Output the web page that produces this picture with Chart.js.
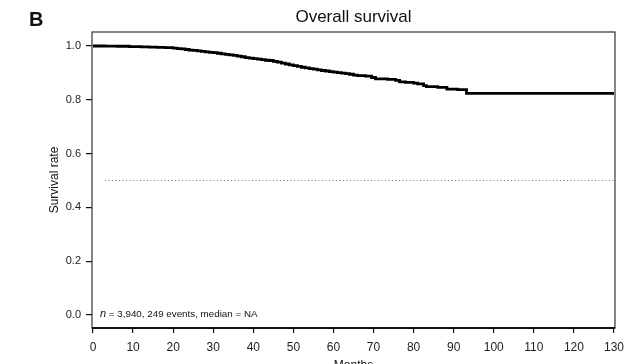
<!DOCTYPE html>
<html>
<head>
<meta charset="utf-8">
<script src="https://cdn.jsdelivr.net/npm/chart.js@4.4.1/dist/chart.umd.min.js"></script>
<style>
  html, body { margin: 0; padding: 0; background: #fff; }
  #wrap { width: 640px; height: 364px; }
</style>
</head>
<body>
<div id="wrap"><canvas id="os-chart" width="640" height="364"></canvas></div>
<script>
// Kaplan-Meier curve (months, survival)
const months = [0, 3, 6, 9, 12, 14, 16, 18, 20, 21, 22, 23, 24, 25, 26, 27, 28, 29, 30, 31, 32, 33, 34, 35, 36, 37, 38, 39, 40,
    41, 42, 43, 44, 45, 46, 47, 48, 49, 50, 51, 52, 53, 54, 55, 56, 57, 58, 59, 60, 61, 62, 63, 64, 65, 66, 68, 69.5, 70.5,
    73.5, 75.5, 76.5, 78, 80, 81, 82.5, 83.2, 86, 88.3, 91, 93.2, 130];
const survival = [1.000, 0.9995, 0.999, 0.998, 0.997, 0.996, 0.995, 0.994, 0.992, 0.990, 0.989, 0.987, 0.985, 0.984, 0.982,
    0.980, 0.978, 0.976, 0.975, 0.973, 0.971, 0.969, 0.967, 0.965, 0.962, 0.960, 0.957, 0.955, 0.953, 0.951, 0.949, 0.947,
    0.946, 0.943, 0.940, 0.936, 0.933, 0.930, 0.927, 0.924, 0.921, 0.919, 0.916, 0.914, 0.911, 0.909, 0.907, 0.905, 0.903,
    0.901, 0.899, 0.897, 0.895, 0.892, 0.890, 0.888, 0.883, 0.878, 0.876, 0.872, 0.867, 0.865, 0.862, 0.859, 0.853, 0.849,
    0.846, 0.840, 0.838, 0.824, 0.824];
const medianX = [3, 130];
const medianY = [0.5, 0.5];
const xTicks = [0, 10, 20, 30, 40, 50, 60, 70, 80, 90, 100, 110, 120, 130];
const yTicks = [0.0, 0.2, 0.4, 0.6, 0.8, 1.0];

const FONT = "'Liberation Sans', Arial, sans-serif";

const decor = {
    id: 'decor',
    afterDraw(chart) {
        const ctx = chart.ctx;
        const a = chart.chartArea;
        ctx.save();
        // box
        ctx.strokeStyle = '#333';
        ctx.lineWidth = 1.2;
        ctx.strokeRect(a.left, a.top, a.right - a.left, a.bottom - a.top);
        // heavier x axis line
        ctx.strokeStyle = '#111';
        ctx.lineWidth = 2;
        ctx.beginPath();
        ctx.moveTo(a.left, a.bottom);
        ctx.lineTo(a.right, a.bottom);
        ctx.stroke();

        ctx.fillStyle = '#111';
        // panel letter
        ctx.font = 'bold 20px ' + FONT;
        ctx.textAlign = 'left';
        ctx.textBaseline = 'middle';
        ctx.fillText('B', 29, 20);
        // title
        const cx = (a.left + a.right) / 2;
        ctx.font = '17px ' + FONT;
        ctx.textAlign = 'center';
        ctx.fillText('Overall survival', cx, 17);
        // x title (cut off at the bottom)
        ctx.font = '12px ' + FONT;
        ctx.textBaseline = 'top';
        ctx.fillText('Months', cx, 360);
        // y title
        ctx.save();
        ctx.translate(55, (a.top + a.bottom) / 2);
        ctx.rotate(-Math.PI / 2);
        ctx.textBaseline = 'middle';
        ctx.fillText('Survival rate', 0, 0);
        ctx.restore();
        // note
        ctx.textAlign = 'left';
        ctx.textBaseline = 'middle';
        ctx.font = 'italic 11px ' + FONT;
        ctx.fillText('n', 100, 314);
        const w = ctx.measureText('n').width;
        ctx.font = '9.8px ' + FONT;
        ctx.fillText(' = 3,940, 249 events, median = NA', 100 + w, 314);
        ctx.restore();
    }
};

new Chart(document.getElementById('os-chart'), {
    type: 'line',
    data: {
        datasets: [{
            label: 'Overall survival',
            data: months.map((m, i) => ({ x: m, y: survival[i] })),
            borderColor: '#000',
            borderWidth: 2.8,
            stepped: true,
            pointRadius: 0,
            fill: false
        }, {
            label: 'Median',
            data: medianX.map((m, i) => ({ x: m, y: medianY[i] })),
            borderColor: '#777',
            borderWidth: 1,
            borderDash: [1, 2.5],
            pointRadius: 0,
            fill: false
        }]
    },
    options: {
        responsive: false,
        animation: false,
        layout: { padding: { top: 32, right: 25, left: 0, bottom: 0 } },
        plugins: {
            legend: { display: false },
            tooltip: { enabled: false },
            title: { display: false }
        },
        scales: {
            x: {
                type: 'linear',
                min: -0.25,
                max: 130.25,
                afterBuildTicks: s => { s.ticks = xTicks.map(v => ({ value: v })); },
                afterFit: s => { s.height = 36; },
                grid: { drawOnChartArea: false, tickLength: 5, color: '#111', lineWidth: 1.2 },
                border: { display: false },
                ticks: {
                    color: '#222',
                    font: { family: FONT, size: 12 },
                    padding: 7,
                    maxRotation: 0,
                    autoSkip: false
                }
            },
            y: {
                min: -0.048,
                max: 1.052,
                afterBuildTicks: s => { s.ticks = yTicks.map(v => ({ value: v })); },
                afterFit: s => { s.width = 92; },
                grid: { drawOnChartArea: false, tickLength: 6, color: '#111', lineWidth: 1.2 },
                border: { display: false },
                ticks: {
                    color: '#222',
                    font: { family: FONT, size: 11 },
                    padding: 5,
                    callback: v => v.toFixed(1)
                }
            }
        }
    },
    plugins: [decor]
});
</script>
</body>
</html>
